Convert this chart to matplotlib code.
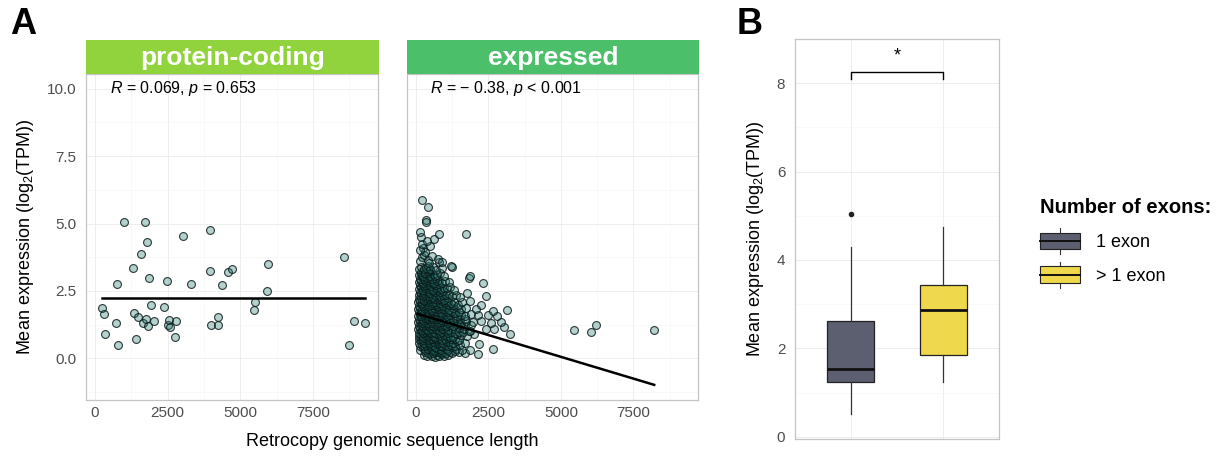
import numpy as np
import matplotlib
matplotlib.use("Agg")
import matplotlib.pyplot as plt
from matplotlib.patches import Rectangle, Patch
from matplotlib.lines import Line2D
from matplotlib.legend_handler import HandlerBase
from matplotlib.ticker import MultipleLocator

plt.rcParams['font.family'] = ['Liberation Sans', 'DejaVu Sans']
plt.rcParams['mathtext.fontset'] = 'custom'
plt.rcParams['mathtext.rm'] = 'Liberation Sans'
plt.rcParams['mathtext.it'] = 'Liberation Sans:italic'

# ---- panel A, protein-coding retrocopies (length, log2 TPM)
pc_len = [241, 298, 333, 723, 769, 791, 998, 1319, 1342, 1411, 1468, 1594, 1652, 1721,
          1743, 1801, 1824, 1858, 1938, 2019, 2386, 2478, 2500, 2546, 2569, 2753, 2799,
          3028, 3315, 3969, 3969, 3980, 4221, 4244, 4381, 4588, 4714, 5460, 5506, 5919,
          5964, 8568, 8717, 8912, 9291]
pc_expr = [1.88, 1.63, 0.89, 1.29, 2.74, 0.49, 5.06, 3.35, 1.69, 0.73, 1.53, 3.88, 1.31, 5.06,
           1.45, 4.33, 1.21, 2.99, 1.96, 1.40, 1.89, 2.88, 1.23, 1.41, 1.16, 0.80, 1.39,
           4.55, 2.75, 4.76, 3.24, 1.23, 1.23, 1.53, 2.70, 3.21, 3.31, 1.78, 2.10, 2.51,
           3.50, 3.74, 0.50, 1.39, 1.30]
pc_fit = (2.25, 0.0)          # intercept, slope
pc_stat = "$\\it{R}$ = 0.069, $\\it{p}$ = 0.653"

# ---- panel A, expressed retrocopies, read band by band off the cloud
ex_len_rows = [
    [260, 380, 470, 560, 640, 720, 810, 900, 980, 1100, 1230, 1500, 2130],
    [300, 420, 520, 600, 690, 760, 850, 940, 1050, 1180, 1350, 1700],
    [150, 230, 310, 400, 480, 550, 620, 700, 770, 850, 930, 1020, 1120, 1250, 1380, 1600, 1850, 2640],
    [130, 200, 280, 360, 440, 520, 590, 660, 740, 820, 900, 990, 1090, 1200, 1330, 1520],
    [110, 190, 260, 340, 410, 490, 560, 630, 700, 780, 860, 940, 1030, 1150, 1280, 1420, 1700, 2190],
    [100, 170, 240, 310, 390, 460, 530, 600, 670, 750, 830, 910, 1000, 1100, 1220, 1350, 1500],
    [90, 160, 230, 300, 370, 440, 510, 580, 650, 720, 800, 880, 960, 1060, 1170, 1277, 1400, 1560, 1750, 2000, 3249],
    [110, 180, 250, 320, 390, 460, 530, 600, 670, 750, 830, 910, 1000, 1100, 1210, 1330, 1470, 1620, 1820],
    [80, 150, 210, 280, 350, 420, 490, 560, 630, 700, 780, 860, 940, 1030, 1120, 1230, 1350, 1480, 1650, 1880, 2400, 2702, 3044],
    [100, 170, 240, 310, 380, 450, 520, 590, 660, 730, 810, 890, 970, 1060, 1160, 1270, 1390, 1530, 1690, 1900],
    [70, 140, 200, 270, 340, 410, 480, 550, 620, 690, 760, 840, 920, 1000, 1090, 1190, 1300, 1420, 1560, 1720, 1950, 2250, 2600, 2950],
    [90, 160, 230, 300, 370, 440, 510, 580, 650, 720, 800, 880, 960, 1050, 1150, 1260, 1380, 1520, 1680],
    [60, 130, 190, 260, 330, 400, 470, 540, 610, 680, 750, 830, 910, 990, 1080, 1180, 1290, 1410, 1550, 1700, 1900, 2150, 2500, 2800],
    [100, 170, 240, 310, 380, 450, 520, 590, 660, 740, 820, 900, 990, 1090, 1200, 1330, 1480],
    [70, 140, 200, 270, 340, 410, 480, 550, 630, 710, 790, 870, 960, 1050, 1150, 1270, 1400, 1560, 1740, 2076, 2644, 3157],
    [110, 180, 250, 320, 390, 460, 530, 610, 690, 770, 850, 940, 1040, 1150, 1280],
    [80, 150, 220, 290, 360, 430, 500, 580, 660, 740, 820, 900, 990, 1090, 1200, 1320, 1448, 1600, 1847, 2246],
    [120, 190, 260, 330, 400, 470, 550, 630, 710, 790, 880, 980, 1090],
    [90, 160, 230, 300, 370, 440, 510, 590, 670, 750, 830, 920, 1020, 1130, 1250, 1380, 1505, 1756, 2418],
    [130, 200, 270, 340, 410, 490, 570, 650, 730, 820, 920],
    [100, 170, 240, 310, 380, 450, 520, 600, 680, 760, 850, 950, 1060, 1180, 1320],
    [140, 210, 280, 350, 430, 510, 590, 680, 780],
    [100, 180, 250, 320, 390, 470, 550, 630, 710, 800, 900, 1010, 1130, 1824, 2302],
    [150, 220, 290, 370, 450, 540, 640],
    [110, 180, 250, 330, 410, 490, 570, 650, 740, 840, 950, 1847],
    [160, 240, 320, 400, 480],
    [120, 190, 260, 340, 420, 500, 590, 690, 797, 900, 1255],
    [150, 200, 250, 280, 308, 420, 460, 536, 763, 900, 1220, 150, 220, 170, 500, 365, 626, 137,
     787, 1710, 332, 360, 400, 195, 5438, 6030, 6201, 8219],
]
ex_expr_rows = [
    [0.12, 0.08, 0.15, 0.10, 0.05, 0.13, 0.09, 0.16, 0.07, 0.12, 0.18, 0.23, 0.17],
    [0.24, 0.20, 0.26, 0.19, 0.23, 0.27, 0.21, 0.25, 0.18, 0.22, 0.26, 0.20],
    [0.32, 0.38, 0.30, 0.36, 0.41, 0.33, 0.28, 0.39, 0.34, 0.31, 0.42, 0.36, 0.29, 0.40, 0.33, 0.30, 0.30, 0.36],
    [0.45, 0.50, 0.44, 0.49, 0.52, 0.46, 0.48, 0.43, 0.51, 0.47, 0.45, 0.50, 0.44, 0.49, 0.46, 0.48],
    [0.58, 0.63, 0.55, 0.66, 0.60, 0.57, 0.64, 0.59, 0.67, 0.56, 0.62, 0.58, 0.65, 0.60, 0.55, 0.63, 0.58, 0.54],
    [0.70, 0.75, 0.68, 0.74, 0.77, 0.69, 0.73, 0.71, 0.76, 0.70, 0.74, 0.68, 0.72, 0.75, 0.70, 0.73, 0.69],
    [0.83, 0.88, 0.80, 0.86, 0.90, 0.82, 0.87, 0.84, 0.79, 0.91, 0.85, 0.81, 0.88, 0.84, 0.80, 0.77, 0.89, 0.86, 0.82, 0.90, 0.91],
    [0.95, 1.00, 0.93, 0.98, 1.01, 0.96, 0.94, 0.99, 0.95, 1.00, 0.93, 0.97, 1.01, 0.95, 0.99, 0.94, 0.98, 0.96, 1.00],
    [1.08, 1.12, 1.05, 1.14, 1.09, 1.03, 1.13, 1.07, 1.15, 1.10, 1.04, 1.12, 1.08, 1.16, 1.05, 1.11, 1.07, 1.13, 1.09, 1.02, 1.10, 1.10, 1.16],
    [1.20, 1.25, 1.18, 1.23, 1.26, 1.19, 1.24, 1.21, 1.27, 1.20, 1.23, 1.18, 1.25, 1.21, 1.24, 1.19, 1.26, 1.22, 1.20, 1.25],
    [1.33, 1.38, 1.30, 1.36, 1.41, 1.32, 1.37, 1.29, 1.35, 1.40, 1.31, 1.36, 1.33, 1.39, 1.30, 1.35, 1.42, 1.34, 1.28, 1.37, 1.33, 1.38, 1.31, 1.36],
    [1.45, 1.50, 1.43, 1.48, 1.51, 1.44, 1.49, 1.46, 1.52, 1.45, 1.48, 1.43, 1.50, 1.46, 1.49, 1.44, 1.51, 1.47, 1.45],
    [1.58, 1.63, 1.55, 1.61, 1.66, 1.57, 1.62, 1.54, 1.60, 1.65, 1.56, 1.61, 1.59, 1.64, 1.55, 1.60, 1.67, 1.58, 1.62, 1.56, 1.63, 1.59, 1.61, 1.57],
    [1.70, 1.75, 1.68, 1.73, 1.76, 1.69, 1.74, 1.71, 1.77, 1.70, 1.73, 1.68, 1.75, 1.71, 1.74, 1.69, 1.72],
    [1.83, 1.88, 1.80, 1.86, 1.91, 1.82, 1.87, 1.79, 1.85, 1.90, 1.81, 1.86, 1.84, 1.89, 1.80, 1.85, 1.92, 1.83, 1.87, 1.84, 1.75, 1.78],
    [1.95, 2.00, 1.93, 1.98, 2.01, 1.94, 1.99, 1.96, 2.02, 1.95, 1.98, 1.93, 2.00, 1.96, 1.99],
    [2.08, 2.13, 2.05, 2.11, 2.16, 2.07, 2.12, 2.04, 2.10, 2.15, 2.06, 2.11, 2.09, 2.14, 2.05, 2.10, 1.96, 2.08, 2.11, 1.99],
    [2.20, 2.25, 2.18, 2.23, 2.26, 2.19, 2.24, 2.21, 2.27, 2.20, 2.23, 2.18, 2.25],
    [2.33, 2.38, 2.30, 2.36, 2.41, 2.32, 2.37, 2.29, 2.35, 2.40, 2.31, 2.36, 2.34, 2.39, 2.30, 2.35, 2.27, 2.42, 2.32],
    [2.45, 2.50, 2.43, 2.48, 2.51, 2.44, 2.49, 2.46, 2.52, 2.45, 2.48],
    [2.58, 2.63, 2.55, 2.61, 2.66, 2.57, 2.62, 2.54, 2.60, 2.65, 2.56, 2.61, 2.59, 2.64, 2.55],
    [2.70, 2.75, 2.68, 2.73, 2.76, 2.69, 2.74, 2.71, 2.77],
    [2.83, 2.88, 2.80, 2.86, 2.91, 2.82, 2.87, 2.79, 2.85, 2.90, 2.81, 2.86, 2.84, 2.99, 2.79],
    [2.95, 3.00, 2.93, 2.98, 3.01, 2.94, 2.99],
    [3.08, 3.13, 3.05, 3.11, 3.16, 3.07, 3.12, 3.04, 3.10, 3.15, 3.06, 3.04],
    [3.20, 3.25, 3.18, 3.23, 3.26],
    [3.33, 3.38, 3.30, 3.36, 3.41, 3.32, 3.37, 3.29, 3.57, 3.35, 3.38],
    [3.60, 3.75, 4.10, 3.85, 3.94, 3.65, 3.55, 3.81, 3.69, 3.57, 3.41, 4.00, 4.25, 4.50, 4.15, 4.37, 4.43, 4.68,
     4.62, 4.62, 5.14, 5.05, 5.63, 5.88, 1.06, 0.99, 1.25, 1.04],
]
ex_fit = (1.667, -0.000323)
ex_stat = "$\\it{R}$ = \u2212 0.38, $\\it{p}$ < 0.001"

# ---- panel B, boxplot summaries (log2 TPM)
exon_groups = ["1 exon", "> 1 exon"]
box_q1 = [1.24, 1.84]
box_med = [1.53, 2.87]
box_q3 = [2.63, 3.43]
box_lo = [0.52, 1.24]
box_hi = [4.29, 4.75]
box_fliers = [[5.05], []]
box_colors = ["#5b5f6f", "#efd84c"]
sig_label = "*"
sig_y = 8.25

ex_len = np.concatenate([np.array(r, float) for r in ex_len_rows])
ex_expr = np.concatenate([np.array(r, float) for r in ex_expr_rows])

W, H = 1221, 457
fig = plt.figure(figsize=(W / 100, H / 100), dpi=100)


def fbox(x0, y0, x1, y1):
    return [x0 / W, 1 - y1 / H, (x1 - x0) / W, (y1 - y0) / H]


tick_col = '#4d4d4d'
point_fill = (0.12, 0.46, 0.42, 0.33)
point_edge = (0.04, 0.10, 0.10, 0.85)


def style_facet(ax):
    ax.set_xlim(-310, 9730)
    ax.set_ylim(-1.55, 10.55)
    ax.xaxis.set_major_locator(MultipleLocator(2500))
    ax.xaxis.set_minor_locator(MultipleLocator(1250))
    ax.yaxis.set_major_locator(MultipleLocator(2.5))
    ax.yaxis.set_minor_locator(MultipleLocator(1.25))
    ax.grid(which='major', color='#ebebeb', lw=0.6)
    ax.grid(which='minor', color='#f5f5f5', lw=0.4)
    ax.set_axisbelow(True)
    for s in ax.spines.values():
        s.set_color('#c4c4c4')
        s.set_linewidth(0.9)
    ax.tick_params(which='both', length=0, labelsize=11, labelcolor=tick_col, pad=4)
    ax.tick_params(axis='y', pad=7)


facets = [
    ("protein-coding", "#91d33c", pc_len, pc_expr, pc_fit, pc_stat, (86, 74, 378, 400)),
    ("expressed", "#4cbf6a", ex_len, ex_expr, ex_fit, ex_stat, (407, 74, 698, 400)),
]
for i, (name, scol, xs, ys, fit, stat, (x0, y0, x1, y1)) in enumerate(facets):
    ax = fig.add_axes(fbox(x0, y0, x1, y1))
    style_facet(ax)
    ax.scatter(xs, ys, s=32, facecolor=point_fill, edgecolor=point_edge, linewidths=0.8, zorder=3)
    lx = np.array([np.min(xs), np.max(xs)])
    ax.plot(lx, fit[0] + fit[1] * lx, color='black', lw=1.8, zorder=4)
    ax.text(500, 10.0, stat, fontsize=11.5, va='center', ha='left', color='black')
    ax.set_xticks([0, 2500, 5000, 7500])
    ax.set_xticklabels([f"{v:g}" for v in [0, 2500, 5000, 7500]])
    if i == 0:
        ax.set_yticks([0, 2.5, 5, 7.5, 10])
        ax.set_yticklabels(["0.0", "2.5", "5.0", "7.5", "10.0"])
        ax.set_ylabel("Mean expression (log$_2$(TPM))", fontsize=13, labelpad=8)
    else:
        ax.set_yticklabels([])
    sax = fig.add_axes(fbox(x0, 40, x1 + 1, 74))
    sax.set_facecolor(scol)
    sax.set_xticks([])
    sax.set_yticks([])
    for s in sax.spines.values():
        s.set_visible(False)
    sax.text(0.5, 0.47, name, color='white', fontsize=19, fontweight='bold',
             ha='center', va='center', transform=sax.transAxes)

fig.text(392 / W, 1 - 442 / H, "Retrocopy genomic sequence length", fontsize=13,
         ha='center', va='center')
fig.text(10 / W, 1 - 25 / H, "A", fontsize=26, fontweight='bold', ha='left', va='center')
fig.text(737 / W, 1 - 25 / H, "B", fontsize=26, fontweight='bold', ha='left', va='center')

# ---- panel B
bx = fig.add_axes(fbox(795, 39, 999, 439))
stats = []
for k in range(len(exon_groups)):
    stats.append(dict(med=box_med[k], q1=box_q1[k], q3=box_q3[k], whislo=box_lo[k],
                      whishi=box_hi[k], fliers=box_fliers[k], label=exon_groups[k]))
bp = bx.bxp(stats, positions=[1, 2], widths=0.5, patch_artist=True, showcaps=False,
            boxprops=dict(edgecolor='#222222', linewidth=0.9),
            medianprops=dict(color='#111111', linewidth=2.0),
            whiskerprops=dict(color='#333333', linewidth=0.9),
            flierprops=dict(marker='o', markersize=3, markerfacecolor='#222222',
                            markeredgecolor='#222222'))
for patch, c in zip(bp['boxes'], box_colors):
    patch.set_facecolor(c)
bx.set_xlim(0.4, 2.6)
bx.set_ylim(-0.05, 9.0)
bx.set_yticks([0, 2, 4, 6, 8])
bx.yaxis.set_minor_locator(MultipleLocator(1))
bx.set_xticks([1, 2])
bx.set_xticklabels([])
bx.grid(which='major', color='#ebebeb', lw=0.6)
bx.grid(which='minor', axis='y', color='#f5f5f5', lw=0.4)
bx.set_axisbelow(True)
for s in bx.spines.values():
    s.set_color('#c4c4c4')
    s.set_linewidth(0.9)
bx.tick_params(which='both', length=0, labelsize=11, labelcolor=tick_col, pad=7)
bx.set_ylabel("Mean expression (log$_2$(TPM))", fontsize=13, labelpad=8)
bx.plot([1, 1, 2, 2], [sig_y - 0.15, sig_y, sig_y, sig_y - 0.15], color='black', lw=1.0)
bx.text(1.5, sig_y + 0.18, sig_label, ha='center', va='bottom', fontsize=13)


class BoxKey(HandlerBase):
    def create_artists(self, legend, orig_handle, xdescent, ydescent, width, height,
                       fontsize, trans):
        x0, y0 = -xdescent, -ydescent
        r = Rectangle((x0, y0 + 0.05 * height), width, 0.9 * height,
                      facecolor=orig_handle.get_facecolor(), edgecolor='#222222',
                      lw=0.8, transform=trans)
        m = Line2D([x0, x0 + width], [y0 + 0.5 * height] * 2, color='#111111', lw=1.4,
                   transform=trans)
        w1 = Line2D([x0 + width / 2] * 2, [y0 - 0.2 * height, y0 + 0.05 * height],
                    color='#333333', lw=0.8, transform=trans)
        w2 = Line2D([x0 + width / 2] * 2, [y0 + 0.95 * height, y0 + 1.2 * height],
                    color='#333333', lw=0.8, transform=trans)
        return [w1, w2, r, m]


handles = [Patch(facecolor=c) for c in box_colors]
leg = fig.legend(handles, exon_groups, handler_map={Patch: BoxKey()},
                 loc='upper left', bbox_to_anchor=(1024 / W, 1 - 182 / H),
                 frameon=False, fontsize=13, title="Number of exons:",
                 title_fontproperties={'weight': 'bold', 'size': 14.5},
                 handlelength=2.2, handleheight=1.2, handletextpad=0.9,
                 labelspacing=0.8, alignment='left')

fig.savefig("out.png", dpi=100)
